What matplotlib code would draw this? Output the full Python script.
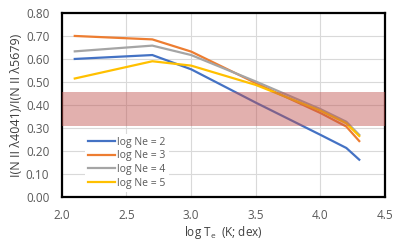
import matplotlib
matplotlib.use("Agg")
import matplotlib.pyplot as plt

# log Te grid and line ratio for each density
log_te = [2.1, 2.7, 3.0, 3.5, 4.0, 4.2, 4.3]
ne2 = [0.60, 0.617, 0.555, 0.41, 0.27, 0.213, 0.162]
ne3 = [0.70, 0.685, 0.632, 0.495, 0.365, 0.306, 0.243]
ne4 = [0.633, 0.658, 0.617, 0.502, 0.382, 0.327, 0.27]
ne5 = [0.515, 0.59, 0.571, 0.487, 0.375, 0.32, 0.265]
labels = ["log Ne = 2", "log Ne = 3", "log Ne = 4", "log Ne = 5"]
colors = ["#4472C4", "#ED7D31", "#A5A5A5", "#FFC000"]

# observed range
obs_lo, obs_hi = 0.307, 0.457

plt.rcParams['font.family'] = ['Open Sans', 'DejaVu Sans']

fig = plt.figure(figsize=(4.15, 2.49), dpi=100)
ax = fig.add_axes([0.149, 0.209, 0.779, 0.739])

for ys, lab, c in zip([ne2, ne3, ne4, ne5], labels, colors):
    ax.plot(log_te, ys, color=c, lw=1.6, label=lab, zorder=3)

ax.axhspan(obs_lo, obs_hi, color="#C0504D", alpha=0.45, lw=0, zorder=4)

ax.set_xlim(2.0, 4.5)
ax.set_ylim(0.0, 0.8)
ax.set_xticks([2.0, 2.5, 3.0, 3.5, 4.0, 4.5])
ax.set_xticklabels(["%.1f" % v for v in [2.0, 2.5, 3.0, 3.5, 4.0, 4.5]])
ax.set_yticks([i / 10 for i in range(9)])
ax.set_yticklabels(["%.2f" % (i / 10) for i in range(9)])
ax.grid(True, color="#D9D9D9", lw=0.8, zorder=0)
ax.set_axisbelow(True)
ax.tick_params(axis="y", length=0, labelsize=8.5, labelcolor="#595959", pad=9)
ax.tick_params(axis="x", length=0, labelsize=8.5, labelcolor="#595959", pad=9)
for s in ax.spines.values():
    s.set_color("black")
    s.set_linewidth(1.6)

ax.set_xlabel(r"log T$_\mathregular{e}$  (K; dex)", fontsize=8.5, color="#404040", labelpad=1)
ax.set_ylabel("I(N II λ4041)/I(N II λ5679)", fontsize=9, color="#404040", labelpad=2)

leg = ax.legend(loc="lower left", bbox_to_anchor=(0.055, 0.0), frameon=True,
                fontsize=7.5, handlelength=2.6, handletextpad=0.2,
                labelspacing=0.25, borderpad=0.3)
leg.get_frame().set_edgecolor("none")
leg.get_frame().set_facecolor("white")
leg.get_frame().set_alpha(1)
for t in leg.get_texts():
    t.set_color("#595959")

fig.savefig("out.png", dpi=100)
